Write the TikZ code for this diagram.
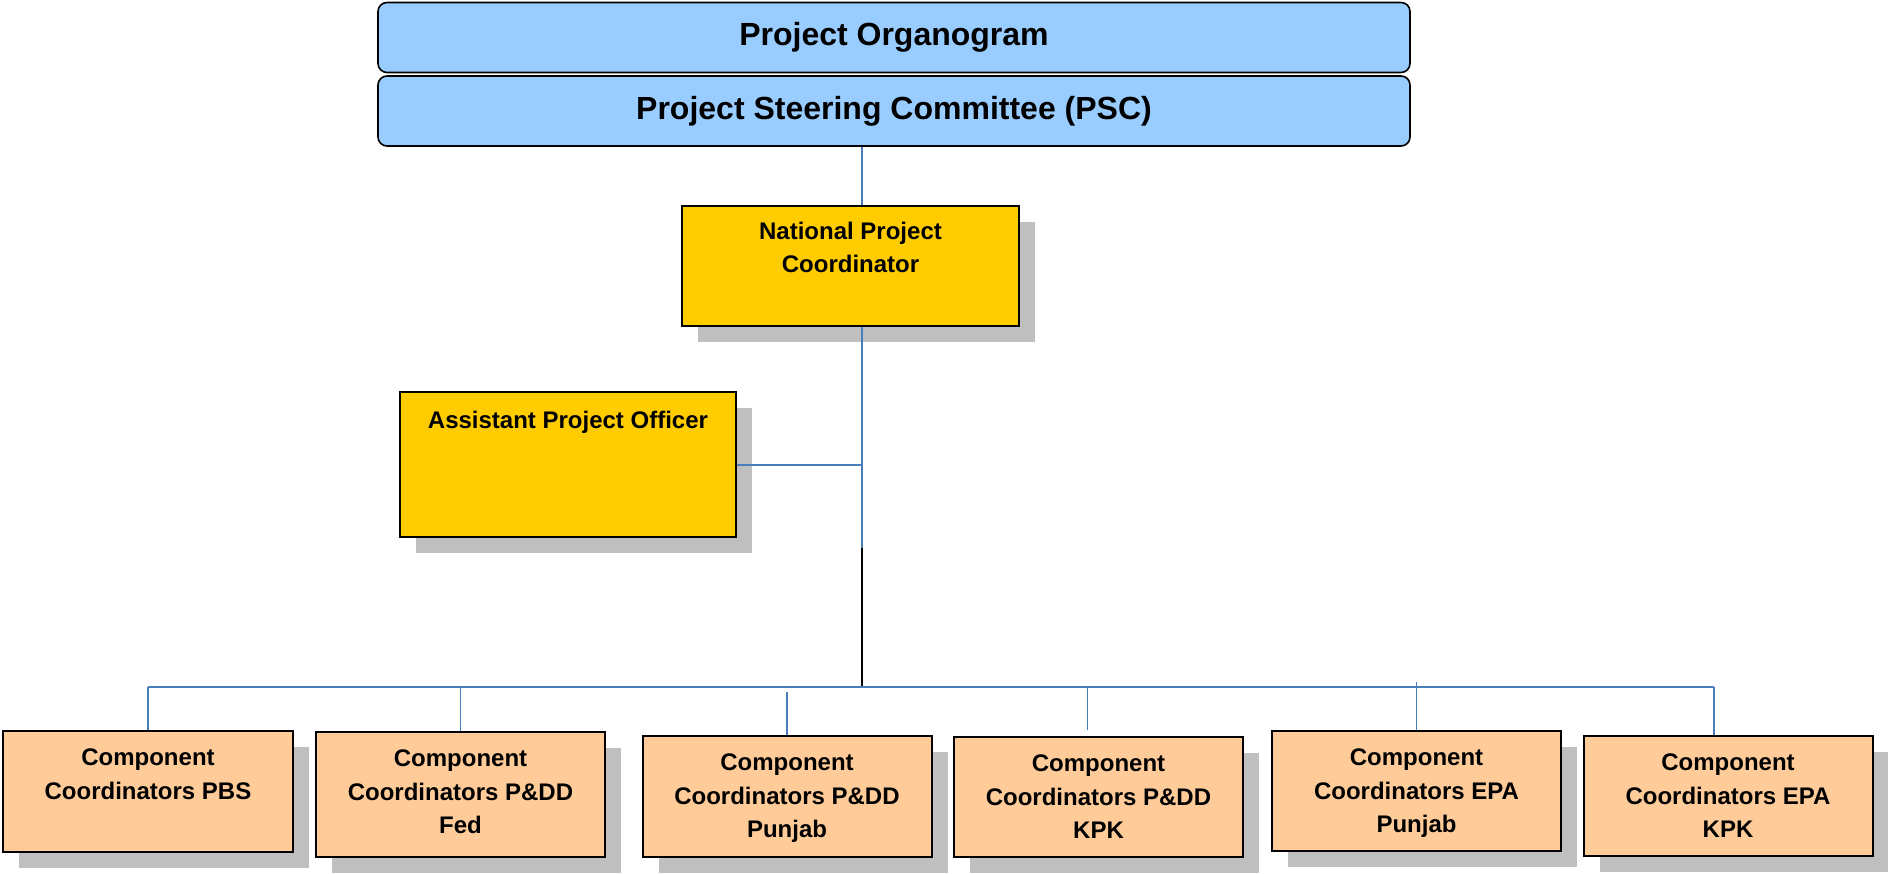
\documentclass[tikz,border=0pt]{standalone}
\usepackage{fontspec}
\setmainfont{Liberation Sans}
\usetikzlibrary{shadows,calc}
\definecolor{headblue}{HTML}{99CCFF}
\definecolor{npcyellow}{HTML}{FFCC00}
\definecolor{peach}{HTML}{FFCC99}
\definecolor{linkblue}{HTML}{4A7EBB}
\definecolor{shade}{HTML}{BFBFBF}
\begin{document}
\begin{tikzpicture}[x=1pt,y=-1pt,
    head/.style={draw,line width=1.6pt,rounded corners=9pt,fill=headblue,inner sep=0pt,
      minimum width=1032pt,minimum height=70pt,font=\fontsize{32}{38}\selectfont\bfseries},
    post/.style={draw,line width=2pt,inner sep=0pt,
      drop shadow={shadow xshift=16pt,shadow yshift=-16pt,fill=shade,opacity=1}},
    toptext/.style={anchor=north,yshift=-15pt,align=center,inner sep=4pt,
      font=\fontsize{24}{33.5}\selectfont\bfseries},
    lead/.style={post,fill=npcyellow},
    cc/.style={post,fill=peach,minimum width=289pt,minimum height=120pt},
    link/.style={draw=linkblue,line width=1.6pt}]
  \useasboundingbox (0,0) rectangle (1888,874);
  \node[head] (org) at (894,37.5) {Project Organogram};
  \node[head] (psc) at (894,111) {Project Steering Committee (PSC)};
  \node[lead,minimum width=337pt,minimum height=120pt,
    label={[toptext,yshift=2.5pt]90:National Project\\Coordinator}] (npc) at (850.5,266) {};
  \node[lead,minimum width=336pt,minimum height=145pt,
    label={[toptext,yshift=-0.5pt]90:Assistant Project Officer}] (apo) at (568,464.5) {};
  \node[cc,minimum width=290pt,minimum height=121pt,
    label={[toptext]90:Component\\Coordinators PBS}] (cc1) at (148,791.5) {};
  \node[cc,minimum height=125pt,
    label={[toptext]90:Component\\Coordinators P\&DD\\Fed}] (cc2) at (460.5,794.5) {};
  \node[cc,minimum height=121pt,
    label={[toptext]90:Component\\Coordinators P\&DD\\Punjab}] (cc3) at (787,796.5) {};
  \node[cc,label={[toptext]90:Component\\Coordinators P\&DD\\KPK}] (cc4) at (1098.5,797) {};
  \node[cc,label={[toptext]90:Component\\Coordinators EPA\\Punjab}] (cc5) at (1416.5,791) {};
  \node[cc,label={[toptext]90:Component\\Coordinators EPA\\KPK}] (cc6) at (1728,796) {};
  \coordinate (joint) at (862,465);
  \coordinate (turn) at (862,548);
  \coordinate (bus) at (862,687);
  \draw[link] (psc.south -| bus) -- (npc.north -| bus);
  \draw[link] (npc.south -| bus) -- (turn);
  \draw[link] (apo.east |- joint) -- (joint);
  \draw[line width=1.8pt] (turn) -- (bus);
  \draw[link] (bus -| cc1.north) -- ($(bus -| cc6.north)+(-14,0)$);
  \draw[link] (bus -| cc1.north) -- (cc1.north);
  \draw[link] (bus -| cc2.north) -- (cc2.north);
  \draw[link] ($(bus -| cc3.north)+(0,5)$) -- (cc3.north);
  \draw[link] ($(bus -| cc4.north)+(-11,0)$) -- ($(cc4.north)+(-11,-6)$);
  \draw[link] ($(bus -| cc5.north)+(0,-5)$) -- (cc5.north);
  \draw[link] ($(bus -| cc6.north)+(-14,0)$) -- ($(cc6.north)+(-14,0)$);
\end{tikzpicture}
\end{document}
